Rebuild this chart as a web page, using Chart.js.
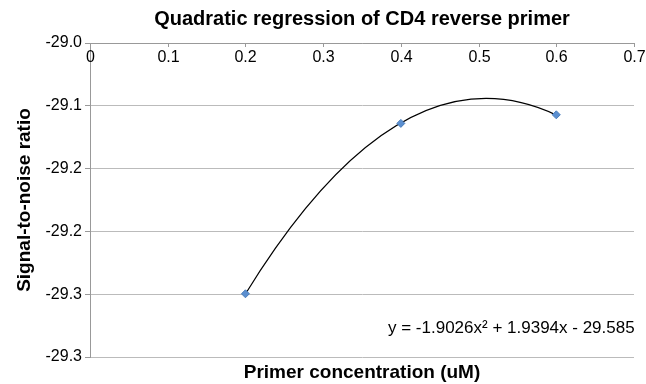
<!DOCTYPE html>
<html>
<head>
<meta charset="utf-8">
<script src="https://cdn.jsdelivr.net/npm/chart.js@4"></script>
<style>
  html, body { margin: 0; padding: 0; background: #fff; }
  #wrap { width: 646px; height: 384px; }
</style>
</head>
<body>
<div id="wrap"><canvas id="chart" width="646" height="384"></canvas></div>
<script>
// Data
const concentrations = [0.2, 0.4, 0.6];
const snrValues = [-29.273, -29.114, -29.106];
// y = a x^2 + b x + c, as printed on the chart
const trendCoefs = [-1.9026, 1.9394, -29.585];
const trendRange = [0.2, 0.6];
// tick labels, top to bottom, as printed (1 decimal place)
const yTickLabels = ['-29.0', '-29.1', '-29.2', '-29.2', '-29.3', '-29.3'];
const equationText = 'y = -1.9026x\u00B2 + 1.9394x - 29.585';

const FONT = 'Liberation Sans, Arial, Helvetica, sans-serif';
const yMin = -29.332;
const yMax = -29.039;

// Trendline (quadratic curve through the chart scales), top axis labels, title, equation
const trendlinePlugin = {
    id: 'trendline',
    beforeDatasetsDraw(chart) {
        const xs = chart.scales.x;
        const ys = chart.scales.y;
        const [a, b, c] = trendCoefs;
        const f = x => a * x * x + b * x + c;
        const df = x => 2 * a * x + b;
        const x0 = trendRange[0], x1 = trendRange[1];
        const cx = (x0 + x1) / 2;
        const cy = f(x0) + df(x0) * (x1 - x0) / 2;
        const ctx = chart.ctx;
        ctx.save();
        ctx.beginPath();
        ctx.moveTo(xs.getPixelForValue(x0), ys.getPixelForValue(f(x0)));
        ctx.quadraticCurveTo(xs.getPixelForValue(cx), ys.getPixelForValue(cy),
            xs.getPixelForValue(x1), ys.getPixelForValue(f(x1)));
        ctx.strokeStyle = '#000';
        ctx.lineWidth = 1.2;
        ctx.stroke();
        ctx.restore();
    },
    afterDraw(chart) {
        const ctx = chart.ctx;
        const xs = chart.scales.x;
        const area = chart.chartArea;
        ctx.save();
        // tick marks and labels under the top axis
        ctx.strokeStyle = '#999';
        ctx.lineWidth = 1;
        ctx.fillStyle = '#000';
        ctx.font = '16px ' + FONT;
        ctx.textAlign = 'center';
        ctx.textBaseline = 'middle';
        xs.ticks.forEach(t => {
            const px = Math.round(xs.getPixelForValue(t.value)) + 0.5;
            ctx.beginPath();
            ctx.moveTo(px, area.top);
            ctx.lineTo(px, area.top + 4);
            ctx.stroke();
            ctx.fillText(t.label, px, area.top + 15);
        });
        // title
        ctx.font = 'bold 20px ' + FONT;
        ctx.fillText('Quadratic regression of CD4 reverse primer', (area.left + area.right) / 2, 19);
        // equation
        ctx.font = '17px ' + FONT;
        ctx.textAlign = 'left';
        ctx.textBaseline = 'alphabetic';
        ctx.fillText(equationText, 388, 333);
        ctx.restore();
    }
};

const ctx = document.getElementById('chart').getContext('2d');
new Chart(ctx, {
    type: 'scatter',
    data: {
        datasets: [{
            data: concentrations.map((x, i) => ({ x: x, y: snrValues[i] })),
            pointStyle: 'rectRot',
            pointRadius: 4,
            backgroundColor: '#5b8fd0',
            borderColor: '#4a7ebb',
            borderWidth: 1
        }]
    },
    options: {
        responsive: false,
        animation: false,
        layout: { padding: { left: 0, right: 12, top: 0, bottom: 0 } },
        plugins: {
            legend: { display: false },
            tooltip: { enabled: false }
        },
        scales: {
            x: {
                type: 'linear',
                position: 'top',
                min: 0,
                max: 0.7,
                ticks: {
                    display: false,
                    stepSize: 0.1,
                    callback: v => String(Math.round(v * 10) / 10)
                },
                grid: { display: false },
                border: { display: true, color: '#999' },
                afterFit(scale) { scale.height = 43; }
            },
            x2: {
                type: 'linear',
                position: 'bottom',
                min: 0,
                max: 0.7,
                ticks: { display: false },
                grid: { display: false },
                border: { display: false },
                title: {
                    display: true,
                    text: 'Primer concentration (uM)',
                    color: '#000',
                    font: { family: FONT, size: 19, weight: 'bold' },
                    padding: { top: 0, bottom: 0 }
                },
                afterFit(scale) { scale.height = 27; }
            },
            y: {
                type: 'linear',
                min: yMin,
                max: yMax,
                afterBuildTicks(scale) {
                    const n = yTickLabels.length - 1;
                    const step = (yMax - yMin) / n;
                    scale.ticks = yTickLabels.map((_, i) => ({ value: yMin + i * step }));
                },
                ticks: {
                    color: '#000',
                    padding: 3,
                    font: { family: FONT, size: 16 },
                    callback: (v, i) => yTickLabels[yTickLabels.length - 1 - i]
                },
                grid: { color: '#bbb', tickLength: 5, tickColor: '#999' },
                border: { display: true, color: '#999' },
                title: {
                    display: true,
                    text: 'Signal-to-noise ratio',
                    color: '#000',
                    font: { family: FONT, size: 19, weight: 'bold' },
                    padding: { top: 13, bottom: 0 }
                },
                afterFit(scale) { scale.width = 90; }
            }
        }
    },
    plugins: [trendlinePlugin]
});
</script>
</body>
</html>
